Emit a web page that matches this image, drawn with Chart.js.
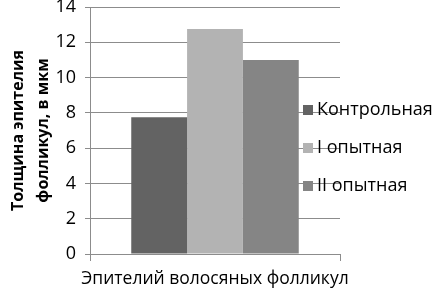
<!DOCTYPE html>
<html>
<head>
<meta charset="utf-8">
<script src="https://cdn.jsdelivr.net/npm/chart.js@4"></script>
<style>
  html, body { margin: 0; padding: 0; background: #fff; }
  #wrap { width: 433px; height: 292px; position: relative; }
</style>
</head>
<body>
<div id="wrap"><canvas id="chart"></canvas></div>
<script>
const categories = ['Эпителий волосяных фолликул'];
const seriesNames = ['Контрольная', 'I опытная', 'II опытная'];
const control = [7.75];
const groupOne = [12.75];
const groupTwo = [11.0];
const yTitle = ['Толщина эпителия', 'фолликул, в мкм'];

const colors = ['#636363', '#b3b3b3', '#858585'];
const FONT = '"Open Sans", sans-serif';

// legend sits on top of the plot, like in the original
const legendOverPlot = {
  id: 'legendOverPlot',
  afterDraw(chart) {
    const ctx = chart.ctx;
    const ys = [110, 148, 186];
    ctx.save();
    ctx.font = '18px ' + FONT;
    ctx.textBaseline = 'middle';
    chart.data.datasets.forEach((ds, i) => {
      ctx.fillStyle = ds.backgroundColor;
      ctx.fillRect(303, ys[i] - 5, 10, 10);
      ctx.fillStyle = '#000';
      ctx.fillText(ds.label, 317, ys[i]);
    });
    ctx.restore();
  }
};

new Chart(document.getElementById('chart'), {
  type: 'bar',
  data: {
    labels: categories,
    datasets: [
      { label: seriesNames[0], data: control, backgroundColor: colors[0] },
      { label: seriesNames[1], data: groupOne, backgroundColor: colors[1] },
      { label: seriesNames[2], data: groupTwo, backgroundColor: colors[2] }
    ]
  },
  options: {
    responsive: true,
    maintainAspectRatio: false,
    animation: false,
    layout: { padding: { top: 7, right: 93, left: 0, bottom: 0 } },
    datasets: { bar: { barPercentage: 1, categoryPercentage: 0.67 } },
    plugins: {
      legend: { display: false },
      tooltip: { enabled: false }
    },
    scales: {
      x: {
        afterFit(scale) { scale.height = 38; scale.paddingLeft = 0; scale.paddingRight = 0; },
        grid: {
          offset: true,
          drawOnChartArea: false,
          drawTicks: true,
          tickLength: 7,
          color: '#8c8c8c'
        },
        border: { color: '#8c8c8c', width: 1 },
        ticks: { color: '#000', font: { family: FONT, size: 17.5 }, padding: 8 }
      },
      y: {
        min: 0,
        max: 14,
        afterFit(scale) { scale.width = 90; scale.paddingTop = 0; scale.paddingBottom = 0; },
        ticks: { stepSize: 2, color: '#000', font: { family: FONT, size: 18 }, padding: 9 },
        grid: { color: '#8c8c8c', tickLength: 5, lineWidth: 1 },
        border: { color: '#8c8c8c', width: 1 },
        title: {
          display: true,
          text: yTitle,
          color: '#000',
          font: { family: FONT, size: 16, weight: 'bold', lineHeight: 1.55 },
          padding: { top: 6, bottom: 0 }
        }
      }
    }
  },
  plugins: [legendOverPlot]
});
</script>
</body>
</html>
